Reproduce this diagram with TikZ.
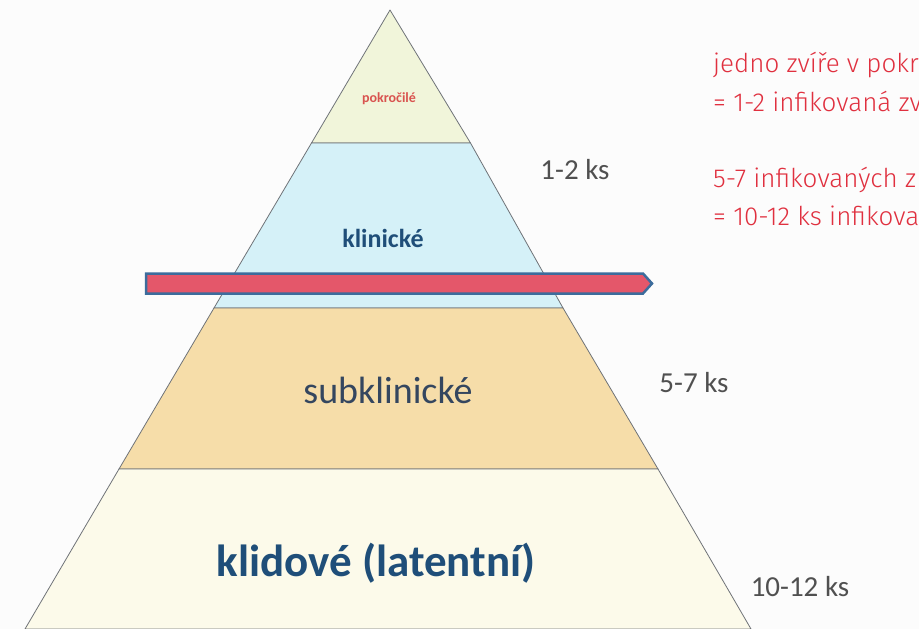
\documentclass[tikz,border=0pt]{standalone}
\usepackage{fontspec}
\setmainfont{Carlito}
\newfontfamily\fira{Fira Sans Light}
\definecolor{bgc}{HTML}{FCFCFC}
\definecolor{topc}{HTML}{F1F5DA}
\definecolor{bluec}{HTML}{D5F1F8}
\definecolor{orc}{HTML}{F6DDA9}
\definecolor{crc}{HTML}{FCFAEA}
\definecolor{edgec}{HTML}{6F7378}
\definecolor{navy}{HTML}{1F4E79}
\definecolor{navy2}{HTML}{34465F}
\definecolor{redt}{HTML}{D9534F}
\definecolor{redr}{HTML}{E0303F}
\definecolor{arrf}{HTML}{E4576A}
\definecolor{arrb}{HTML}{3C6C9C}
\definecolor{grayt}{HTML}{505050}
\begin{document}
\begin{tikzpicture}[x=1pt,y=-1pt,
  tier/.style={draw=edgec,line width=0.8pt,line join=round},
  lbl/.style={font=\fontsize{29}{33}\selectfont,text=grayt,inner sep=0pt},
  rtext/.style={font=\fira\fontsize{26}{30}\selectfont,text=redr,anchor=base west,inner sep=0pt}]
\useasboundingbox (0,0) rectangle (919,629);
\clip (0,0) rectangle (919,629);
\fill[bgc] (0,0) rectangle (919,629);
% apex (390,10), slope 0.59
\coordinate (A) at (390,10);
\coordinate (L1) at (311.5,143); \coordinate (R1) at (470.5,143);
\coordinate (L2) at (214,308); \coordinate (R2) at (563,308);
\coordinate (L3) at (119,469); \coordinate (R3) at (658,469);
\coordinate (L4) at (25,629); \coordinate (R4) at (751,629);
\filldraw[tier,fill=topc] (A) -- (R1) -- (L1) -- cycle;
\filldraw[tier,fill=bluec] (L1) -- (R1) -- (R2) -- (L2) -- cycle;
\filldraw[tier,fill=orc] (L2) -- (R2) -- (R3) -- (L3) -- cycle;
\filldraw[tier,fill=crc] (L3) -- (R3) -- (R4) -- (L4) -- cycle;
% arrow band
\filldraw[fill=arrf,draw=arrb,line width=2.5pt,line join=miter]
  (146,273.5) -- (643,273.5) -- (652,283.5) -- (643,293.5) -- (146,293.5) -- cycle;
% tier labels
\node[text=redt,font=\bfseries\fontsize{14}{16}\selectfont] (pk) at (389,99) {pokročilé};
\node[text=navy,font=\bfseries\fontsize{26}{30}\selectfont] (kl) at (383,238) {klinické};
\node[text=navy2,font=\fontsize{38}{42}\selectfont] (sk) at (388,390) {subklinické};
\node[text=navy,font=\bfseries\fontsize{45}{50}\selectfont] (kd) at (376,563) {klidové (latentní)};
% counts
\node[lbl] (c1) at (575,170) {1-2 ks};
\node[lbl] (c2) at (694,383) {5-7 ks};
\node[lbl] (c3) at (800,587) {10-12 ks};
% red notes
\node[rtext] (n1) at (713,72) {jedno zvíře v pokr};
\node[rtext] (n2) at (713,111) {= 1-2 infikovaná zv};
\node[rtext] (n3) at (713,187) {5-7 infikovaných z};
\node[rtext] (n4) at (713,225) {= 10-12 ks infikova};
\end{tikzpicture}
\end{document}
